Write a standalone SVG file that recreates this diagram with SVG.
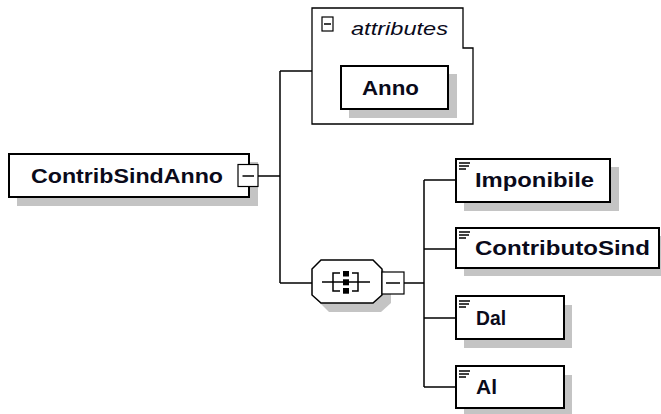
<svg xmlns="http://www.w3.org/2000/svg" width="661" height="414" viewBox="0 0 661 414">
<style>
.shadow{fill:#c4c4c4;stroke:none}
.box{fill:#fff;stroke:#000;stroke-width:2}
.thin{fill:#fff;stroke:#000;stroke-width:1.2}
.conn{fill:none;stroke:#000;stroke-width:1.5}
.lbl{font-family:"Liberation Sans",Arial,sans-serif;font-weight:bold;font-size:21px;fill:#0a0a1a}
.ital{font-family:"Liberation Sans",Arial,sans-serif;font-style:italic;font-size:17.5px;fill:#0a0a1a}
.ico{stroke:#000;stroke-width:1.5;fill:none}
</style>
<defs>
<g id="elicon">
<line x1="0" y1="0" x2="11" y2="0" class="ico"/>
<line x1="0" y1="3" x2="10" y2="3" class="ico"/>
<line x1="0" y1="6" x2="7" y2="6" class="ico"/>
</g>
</defs>
<g id="connectors">
<line x1="258" y1="176" x2="280" y2="176" class="conn"/>
<line x1="280" y1="71" x2="280" y2="283" class="conn"/>
<line x1="280" y1="71" x2="312" y2="71" class="conn"/>
<line x1="280" y1="283" x2="312" y2="283" class="conn"/>
<line x1="404" y1="283" x2="424" y2="283" class="conn"/>
<line x1="424" y1="180" x2="424" y2="387" class="conn"/>
<line x1="424" y1="180" x2="456" y2="180" class="conn"/>
<line x1="424" y1="249" x2="456" y2="249" class="conn"/>
<line x1="424" y1="318" x2="456" y2="318" class="conn"/>
<line x1="424" y1="387" x2="456" y2="387" class="conn"/>
</g>
<g id="ContribSindAnno">
<rect x="17" y="162" width="241" height="44" class="shadow"/>
<rect x="9" y="154" width="240" height="43" class="box"/>
<text x="31" y="183" class="lbl" textLength="192" lengthAdjust="spacingAndGlyphs">ContribSindAnno</text>
<rect x="238" y="164.5" width="20" height="22" class="thin"/>
<line x1="242.5" y1="176" x2="254" y2="176" class="ico"/>
</g>
<g id="attributes">
<path d="M312,8 H463 V48 H473 V124 H312 Z" fill="#fff" stroke="#000" stroke-width="1.3"/>
<rect x="322" y="17" width="11" height="14" class="thin"/>
<line x1="324" y1="24" x2="331" y2="24" class="ico"/>
<text x="351" y="35" class="ital" textLength="97" lengthAdjust="spacingAndGlyphs">attributes</text>
</g>
<g id="Anno">
<rect x="349" y="74" width="108" height="44" class="shadow"/>
<rect x="341" y="66" width="107" height="43" class="box"/>
<text x="362" y="95" class="lbl" textLength="57" lengthAdjust="spacingAndGlyphs">Anno</text>
</g>
<g id="sequence">
<path d="M329,268 H381 L391,278 V303 L381,312 H329 L320,303 V278 Z" class="shadow"/>
<path d="M321,260 H373 L382,269 V295 L373,303 H321 L312,295 V269 Z" fill="#fff" stroke="#000" stroke-width="1.5"/>
<line x1="322" y1="282" x2="370" y2="282" class="ico"/>
<path d="M340,273 H333 V291 H340" class="ico"/>
<path d="M352,273 H358 V291 H352" class="ico"/>
<rect x="343" y="271" width="6" height="5.5" fill="#000"/>
<rect x="343" y="279.3" width="6" height="6" fill="#000"/>
<rect x="343" y="288" width="6" height="5.7" fill="#000"/>
<rect x="382" y="272" width="22" height="22" class="thin"/>
<line x1="386" y1="283" x2="400" y2="283" class="ico"/>
</g>
<g id="Imponibile">
<rect x="464" y="167" width="155" height="44" class="shadow"/>
<rect x="456" y="159" width="154" height="43" class="box"/>
<use href="#elicon" x="459" y="163"/>
<text x="475" y="187" class="lbl" textLength="119" lengthAdjust="spacingAndGlyphs">Imponibile</text>
</g>
<g id="ContributoSind">
<rect x="464" y="236" width="200" height="40" class="shadow"/>
<rect x="456" y="228" width="203" height="40" class="box"/>
<use href="#elicon" x="459" y="232"/>
<text x="475" y="255" class="lbl" textLength="175" lengthAdjust="spacingAndGlyphs">ContributoSind</text>
</g>
<g id="Dal">
<rect x="464" y="305" width="108" height="43" class="shadow"/>
<rect x="456" y="296" width="108" height="43" class="box"/>
<use href="#elicon" x="459" y="301"/>
<text x="476" y="325" class="lbl" textLength="30" lengthAdjust="spacingAndGlyphs">Dal</text>
</g>
<g id="Al">
<rect x="464" y="375" width="108" height="42" class="shadow"/>
<rect x="456" y="366" width="108" height="42" class="box"/>
<use href="#elicon" x="459" y="371"/>
<text x="476" y="394" class="lbl" textLength="21" lengthAdjust="spacingAndGlyphs">Al</text>
</g>
</svg>
